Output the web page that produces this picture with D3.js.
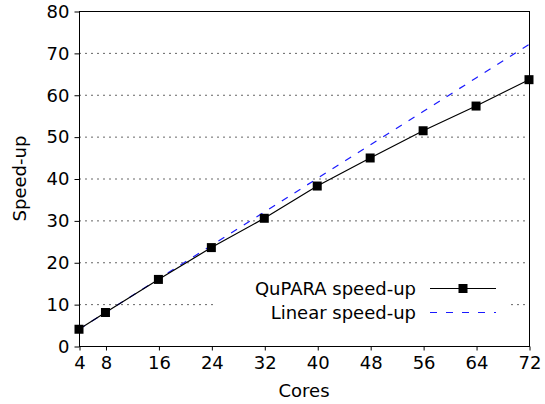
<!DOCTYPE html>
<html><head><meta charset="utf-8">
<script src="https://cdn.jsdelivr.net/npm/d3@7"></script>
<style>body{margin:0;background:#fff}svg{display:block}text{font-family:"DejaVu Sans";fill:#000}</style>
</head><body>
<script>
const cores = [4, 8, 16, 24, 32, 40, 48, 56, 64, 72];
const quparaSpeedup = [4, 8, 15.9, 23.5, 30.5, 38.2, 44.9, 51.4, 57.3, 63.6];
const linearSpeedup = [4, 8, 16, 24, 32, 40, 48, 56, 64, 72];
const yTicks = [0, 10, 20, 30, 40, 50, 60, 70, 80];
const seriesNames = ["QuPARA speed-up", "Linear speed-up"];

const W = 545, H = 404;
const FS = 18;
const m = {left: 79, right: 16, top: 11, bottom: 58};
const svg = d3.select("body").append("svg").attr("width", W).attr("height", H);
const x = d3.scaleLinear().domain([4, 72]).range([m.left, W - m.right]);
const y = d3.scaleLinear().domain([0, 80]).range([H - m.bottom, m.top]);

// grid
svg.append("g").selectAll("line").data(yTicks.filter(d => d > 0 && d < 80)).join("line")
  .attr("x1", x(4)).attr("x2", x(72)).attr("y1", d => y(d) + 0.5).attr("y2", d => y(d) + 0.5)
  .attr("stroke", "#666").attr("stroke-width", 1).attr("stroke-dasharray", "2,4");

const line = d3.line().x(d => x(d[0])).y(d => y(d[1]));
svg.append("path").datum(cores.map((c, i) => [c, linearSpeedup[i]]))
  .attr("d", line).attr("fill", "none").attr("stroke", "#1a1aff").attr("stroke-width", 1.2).attr("stroke-dasharray", "7,8");
svg.append("path").datum(cores.map((c, i) => [c, quparaSpeedup[i]]))
  .attr("d", line).attr("fill", "none").attr("stroke", "#000").attr("stroke-width", 1.2);
svg.append("g").selectAll("rect").data(cores.map((c, i) => [c, quparaSpeedup[i]])).join("rect")
  .attr("x", d => x(d[0]) - 4.5).attr("y", d => y(d[1]) - 4.5).attr("width", 9).attr("height", 9).attr("fill", "#000");

// legend
const lg = svg.append("g");
lg.append("rect").attr("x", 213).attr("y", 268).attr("width", 294).attr("height", 62).attr("fill", "#fff");
const ly = [288, 312];
lg.selectAll("text").data(seriesNames).join("text")
  .attr("x", 416).attr("y", (d, i) => ly[i] + 6.5).attr("text-anchor", "end").attr("font-size", FS).text(d => d);
lg.append("line").attr("x1", 430).attr("x2", 496).attr("y1", ly[0] + 0.5).attr("y2", ly[0] + 0.5).attr("stroke", "#000").attr("stroke-width", 1.2);
lg.append("rect").attr("x", 463 - 4.5).attr("y", ly[0] - 4).attr("width", 9).attr("height", 9).attr("fill", "#000");
lg.append("line").attr("x1", 430).attr("x2", 496).attr("y1", ly[1] + 0.5).attr("y2", ly[1] + 0.5).attr("stroke", "#1a1aff").attr("stroke-width", 1.2).attr("stroke-dasharray", "7,9");

// frame
svg.append("rect").attr("x", m.left + 0.5).attr("y", m.top + 0.5).attr("width", x(72) - x(4)).attr("height", y(0) - y(80))
  .attr("fill", "none").attr("stroke", "#000").attr("stroke-width", 1);

const xa = svg.append("g").attr("transform", `translate(0.5,${y(0) + 0.5})`)
  .call(d3.axisBottom(x).tickValues(cores).tickSize(4).tickPadding(6).tickFormat(d3.format("d")));
const ya = svg.append("g").attr("transform", `translate(${m.left + 0.5},0.5)`)
  .call(d3.axisLeft(y).tickValues(yTicks).tickSize(5).tickPadding(5).tickFormat(d3.format("d")));
[xa, ya].forEach(a => { a.select(".domain").remove(); a.selectAll("text").attr("font-size", FS).attr("font-family", "DejaVu Sans"); a.selectAll("line").attr("stroke", "#000"); });

svg.append("text").attr("x", (x(4) + x(72)) / 2).attr("y", 397).attr("text-anchor", "middle").attr("font-size", FS).text("Cores");
svg.append("text").attr("transform", `translate(26,${(y(0) + y(80)) / 2}) rotate(-90)`).attr("text-anchor", "middle").attr("font-size", FS).text("Speed-up");
</script>
</body></html>
